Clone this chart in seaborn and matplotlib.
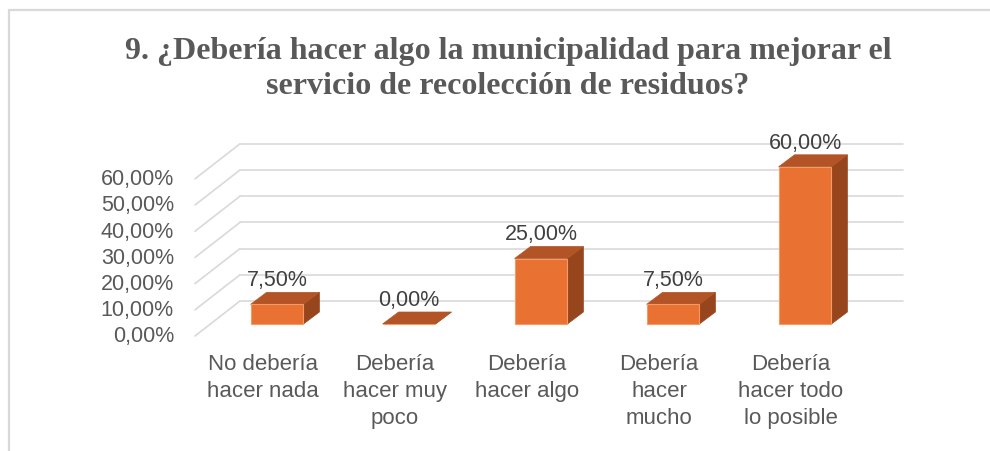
import numpy as np
import seaborn as sns
import matplotlib.pyplot as plt
from matplotlib.lines import Line2D
from matplotlib.patches import Polygon
from matplotlib import transforms as mtransforms

categories = ["No debería\nhacer nada", "Debería\nhacer muy\npoco", "Debería\nhacer algo",
              "Debería\nhacer\nmucho", "Debería\nhacer todo\nlo posible"]
values = [7.5, 0.0, 25.0, 7.5, 60.0]
y_ticks = [0, 10, 20, 30, 40, 50, 60]
title = "9. ¿Debería hacer algo la municipalidad para mejorar el\nservicio de recolección de residuos?"

def pct(v):
    return f"{v:.2f}".replace(".", ",") + "%"

sns.set_style("white")
plt.rcParams['font.family'] = ['Liberation Sans', 'DejaVu Sans']

W, H = 990, 452
fig = plt.figure(figsize=(W / 100, H / 100), dpi=100)
# axes in pixel frame: x 190..910, y 140..345 (top-down)
ax = fig.add_axes([190 / W, (H - 345) / H, 720 / W, 205 / H])
sns.barplot(x=list(range(len(values))), y=values, color="#E97132", width=0.4,
            saturation=1, ax=ax, edgecolor="#F39A66", linewidth=0.8)
ax.set_xlim((190 - 277) / 132, (910 - 277) / 132)
ax.set_ylim((325 - 345) / 2.62, (325 - 140) / 2.62)
ax.axis("off")

def shifted(x, y, dx, dy):
    p = ax.transData.transform((x, y)) + np.array([dx, dy])
    return ax.transData.inverted().transform(p)

front = mtransforms.offset_copy(ax.transData, fig=fig, x=0, y=-12, units="dots")
back = mtransforms.offset_copy(ax.transData, fig=fig, x=0, y=23, units="dots")
grid_c = "#D9D9D9"
xl_front, xl_back, xr_back = (195 - 277) / 132, (240 - 277) / 132, (903 - 277) / 132
for v in y_ticks:
    ax.plot([xl_back, xr_back], [v, v], color=grid_c, lw=1.2, transform=back,
            zorder=0, clip_on=False)
    a = shifted(xl_front, v, 0, -12)
    b = shifted(xl_back, v, 0, 23)
    ax.plot([a[0], b[0]], [a[1], b[1]], color=grid_c, lw=1.2, zorder=0, clip_on=False)
    ax.text((174 - 277) / 132, v, pct(v), transform=front, ha="right", va="center",
            fontsize=15.5, color="#595959", clip_on=False)

# pseudo 3D faces for each bar
ddx, ddy = 16, 12
for patch in ax.patches[:len(values)]:
    x0 = patch.get_x()
    x1 = x0 + patch.get_width()
    h = patch.get_height()
    top = [(x0, h), (x1, h), tuple(shifted(x1, h, ddx, ddy)), tuple(shifted(x0, h, ddx, ddy))]
    side = [(x1, 0), (x1, h), tuple(shifted(x1, h, ddx, ddy)), tuple(shifted(x1, 0, ddx, ddy))]
    ax.add_patch(Polygon(side, closed=True, facecolor="#96451C", edgecolor="#96451C",
                         lw=0.5, zorder=3))
    ax.add_patch(Polygon(top, closed=True, facecolor="#B25425", edgecolor="#B25425",
                         lw=0.5, zorder=3))
    patch.set_zorder(4)

lab_tr = mtransforms.offset_copy(ax.transData, fig=fig, x=0, y=19, units="dots")
for i, v in enumerate(values):
    ax.text(i, v, pct(v), transform=lab_tr, ha="center", va="baseline",
            fontsize=15.5, color="#404040", clip_on=False)

cat_tr = mtransforms.offset_copy(ax.transData, fig=fig, x=-14, y=-29, units="dots")
for i, c in enumerate(categories):
    ax.text(i, 0, c, transform=cat_tr, ha="center", va="top", fontsize=16,
            color="#595959", linespacing=1.38, clip_on=False)

fig.text(0.5 + 13 / W, 1 - 69 / H, title, ha="center", va="center", fontsize=23,
         fontweight="bold", family="Liberation Serif", color="#595959", linespacing=1.28)

fig.add_artist(Line2D([9 / W, 9 / W], [0, 1 - 11 / H], color=grid_c, lw=1.6))
fig.add_artist(Line2D([9 / W, 1], [1 - 11 / H, 1 - 11 / H], color=grid_c, lw=1.6))

fig.savefig("out.png", dpi=100)
